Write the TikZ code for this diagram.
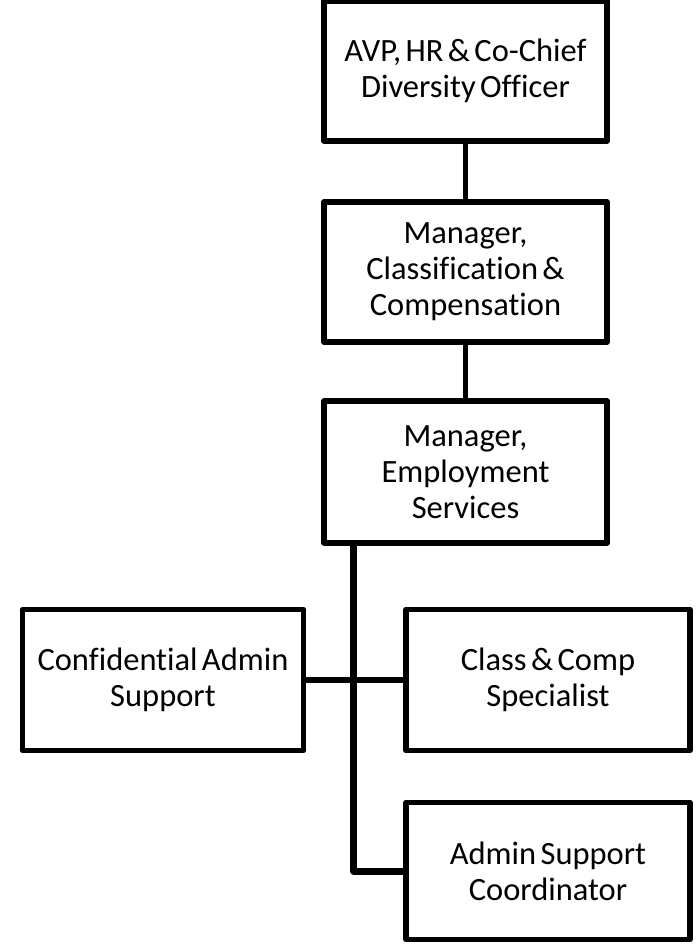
\documentclass[tikz,border=0pt]{standalone}
\usepackage{fontspec}
\setmainfont{Carlito}[Ligatures={NoCommon}, WordSpace=0.6]
\begin{document}
\begin{tikzpicture}[x=1pt,y=-1pt,
  orgbox/.style={draw=black, fill=white, line width=5.6pt, line join=round,
    inner sep=0pt, align=center, font=\fontsize{32.5}{36}\selectfont},
  link/.style={draw=black, line width=5.6pt},
  trunk/.style={draw=black, line width=7pt, line join=round}]
\useasboundingbox (0,0) rectangle (698,946);
% boxes
\node[orgbox, minimum width=283pt, minimum height=140pt] (avp) at (465.5,71)
  {AVP, HR \& Co-Chief\\Diversity Officer};
\node[orgbox, minimum width=283pt, minimum height=140pt] (mcc) at (465.5,272)
  {Manager,\\Classification \&\\Compensation};
\node[orgbox, minimum width=283pt, minimum height=141.5pt] (mes) at (465.5,472)
  {Manager,\\Employment\\Services};
\node[orgbox, minimum width=281pt, minimum height=141pt] (cas) at (163,680)
  {Confidential Admin\\Support};
\node[orgbox, minimum width=284pt, minimum height=141pt] (ccs) at (548,680)
  {Class \& Comp\\Specialist};
\node[orgbox, minimum width=284pt, minimum height=137pt] (asc) at (548,871)
  {Admin Support\\Coordinator};
% connectors
\coordinate (tk) at (353.5,0);
\draw[link] (avp.south) -- (mcc.north);
\draw[link] (mcc.south) -- (mes.north);
\draw[link] (cas.east) -- (ccs.west);
\draw[trunk] (mes.south -| tk) |- (asc.west);
\end{tikzpicture}
\end{document}
